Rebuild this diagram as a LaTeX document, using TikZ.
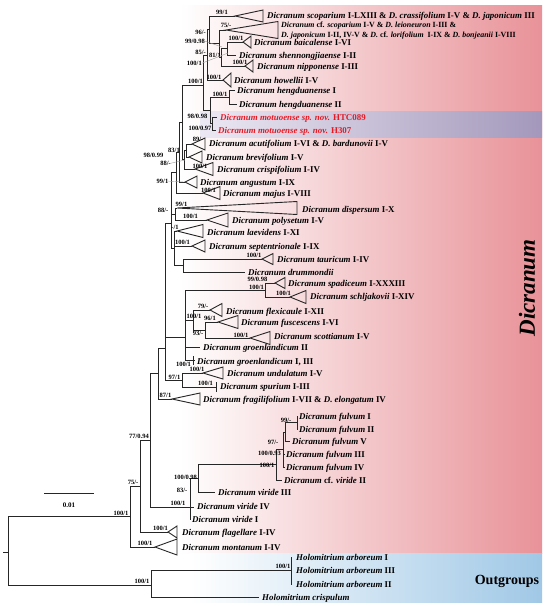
\documentclass[tikz,border=0pt]{standalone}
\usepackage{fontspec}
\setmainfont{Liberation Serif}
\definecolor{pinkR}{RGB}{232,146,152}
\definecolor{pinkM}{RGB}{246,214,217}
\definecolor{blueR}{RGB}{160,200,230}
\definecolor{purR}{RGB}{163,152,187}
\definecolor{purL}{RGB}{236,232,243}
\definecolor{redT}{RGB}{230,25,35}
\newcommand{\cladetri}[3]{\draw[br] (#1) -- ++(#2,-#3) -- ++(0,{2*#3}) -- cycle;}
\begin{document}
\begin{tikzpicture}[x=1pt,y=-1pt,
 br/.style={line width=0.9pt, draw=black!85},
 tl/.style={anchor=base west, inner sep=0pt, yshift=-3.1pt, font=\fontsize{8.9}{10}\selectfont\bfseries},
 tls/.style={tl, font=\fontsize{7.9}{9}\selectfont\bfseries},
 bs/.style={anchor=base, inner sep=0pt, yshift=-2.3pt, font=\fontsize{6.5}{7}\selectfont\bfseries},
 bse/.style={bs, anchor=base east},
 lead/.style={draw=black!40, line width=0.4pt}]
\useasboundingbox (0,0) rectangle (550,606);
% backgrounds
\shade[left color=white, middle color=pinkM, right color=pinkR] (180,5) rectangle (542,553);
\shade[left color=purL, right color=purR] (200,111) rectangle (542,137);
\shade[left color=white, right color=blueR] (190,553) rectangle (542,602);
% coordinates
\coordinate (root) at (8,552); \coordinate (rtk) at (3,552);
\coordinate (R) at (130,516.5); \coordinate (O) at (151,585);
\coordinate (Ar) at (291,570.5);
\coordinate (arI) at (292,557); \coordinate (arIII) at (292,570.5); \coordinate (arII) at (292,584);
\coordinate (crs) at (259,597);
\coordinate (T) at (140,486); \coordinate (mon) at (155,547);
\coordinate (M0) at (150,440); \coordinate (fla) at (168,532);
\coordinate (M1) at (158,373.5); \coordinate (W) at (190,507);
\coordinate (X) at (198,478.5); \coordinate (vIV) at (194,507); \coordinate (vI) at (190,520);
\coordinate (F0) at (276,464.75); \coordinate (vIII) at (215,492);
\coordinate (F1v) at (283,449.5); \coordinate (cvII) at (282,480);
\coordinate (F2v) at (285,432); \coordinate (fIII) at (285,454); \coordinate (fIV) at (285,467);
\coordinate (F3) at (297,422.5); \coordinate (fV) at (290,441);
\coordinate (fI) at (298,416); \coordinate (fII) at (298,429);
\coordinate (BIG) at (165,348); \coordinate (fra) at (172,399);
\coordinate (X1) at (171,223); \coordinate (G) at (185,337); \coordinate (U) at (182,380);
\coordinate (und) at (203,373); \coordinate (Sp) at (216,387);
\coordinate (spT) at (216,382); \coordinate (spB) at (216,392);
\coordinate (SS) at (265,290); \coordinate (F) at (193,320); \coordinate (g2) at (200,347);
\coordinate (GI) at (193,360.5); \coordinate (gIT) at (193,356); \coordinate (gIB) at (193,365);
\coordinate (gIe) at (195,360.5);
\coordinate (spa) at (275,283); \coordinate (sch) at (290,297);
\coordinate (fle) at (210,310); \coordinate (F2) at (205,330);
\coordinate (fus) at (218,322); \coordinate (sco) at (250,338);
\coordinate (Q) at (176,172.5); \coordinate (DP) at (175,214); \coordinate (L2) at (174,248);
\coordinate (dis) at (177,208); \coordinate (pol) at (207,220);
\coordinate (lae) at (177,231); \coordinate (sep) at (192,246); \coordinate (D) at (183,265.5);
\coordinate (tau) at (262,259); \coordinate (dru) at (245,272);
\coordinate (Q1) at (179,152); \coordinate (maj) at (203,193);
\coordinate (P) at (182,122.5); \coordinate (ang) at (185,182);
\coordinate (J) at (203,85); \coordinate (AB) at (184,159.5);
\coordinate (AB0) at (186,150); \coordinate (crp) at (195,169);
\coordinate (acu) at (192,144); \coordinate (bre) at (189,157);
\coordinate (H) at (207,55); \coordinate (HM) at (210,110);
\coordinate (Hd) at (229,97); \coordinate (Mo) at (212,123.5);
\coordinate (h1) at (235,90); \coordinate (h2) at (237,104);
\coordinate (m1) at (217,117); \coordinate (m2) at (216,130);
\coordinate (A1) at (209,29.75); \coordinate (how) at (223,80);
\coordinate (scp) at (235,16); \coordinate (A2) at (219,43.5);
\coordinate (cfs) at (226,30); \coordinate (A3) at (221,57);
\coordinate (B1) at (227,48.5); \coordinate (nip) at (245,66);
\coordinate (bai) at (243,42); \coordinate (she) at (236,55);
% branches
\draw[br] (rtk) -- (root);
\draw[br] (root) |- (R); \draw[br] (root) |- (O);
\draw[br] (O) |- (Ar); \draw[br] (O) |- (crs);
\draw[br] (Ar) |- (arI); \draw[br] (Ar) -- (arIII); \draw[br] (Ar) |- (arII);
\draw[br] (R) |- (T); \draw[br] (R) |- (mon);
\draw[br] (T) |- (M0); \draw[br] (T) |- (fla);
\draw[br] (M0) |- (M1); \draw[br] (M0) |- (W);
\draw[br] (W) |- (X); \draw[br] (W) -- (vIV); \draw[br] (W) -- (vI);
\draw[br] (X) |- (F0); \draw[br] (X) |- (vIII);
\draw[br] (F0) |- (F1v); \draw[br] (F0) |- (cvII);
\draw[br] (F1v) |- (F2v); \draw[br] (F1v) |- (fIII); \draw[br] (F1v) |- (fIV);
\draw[br] (F2v) |- (F3); \draw[br] (F2v) |- (fV);
\draw[br] (F3) |- (fI); \draw[br] (F3) |- (fII);
\draw[br] (M1) |- (BIG); \draw[br] (M1) |- (fra);
\draw[br] (BIG) |- (X1); \draw[br] (BIG) |- (G); \draw[br] (BIG) |- (U);
\draw[br] (U) |- (und); \draw[br] (U) |- (Sp); \draw[br] (spT) -- (spB);
\draw[br] (G) |- (SS); \draw[br] (G) |- (F); \draw[br] (G) |- (g2); \draw[br] (G) |- (GI);
\draw[br] (gIT) -- (gIB); \draw[br] (GI) -- (gIe);
\draw[br] (SS) |- (spa); \draw[br] (SS) |- (sch);
\draw[br] (F) |- (fle); \draw[br] (F) |- (F2);
\draw[br] (F2) |- (fus); \draw[br] (F2) |- (sco);
\draw[br] (X1) |- (Q); \draw[br] (X1) |- (DP); \draw[br] (X1) |- (L2);
\draw[br] (DP) |- (dis); \draw[br] (DP) |- (pol);
\draw[br] (L2) |- (lae); \draw[br] (L2) |- (sep); \draw[br] (L2) |- (D);
\draw[br] (D) |- (tau); \draw[br] (D) |- (dru);
\draw[br] (Q) |- (Q1); \draw[br] (Q) |- (maj);
\draw[br] (Q1) |- (P); \draw[br] (Q1) |- (ang);
\draw[br] (P) |- (J); \draw[br] (P) |- (AB);
\draw[br] (AB) |- (AB0); \draw[br] (AB) |- (crp);
\draw[br] (AB0) |- (acu); \draw[br] (AB0) |- (bre);
\draw[br] (J) |- (H); \draw[br] (J) |- (HM);
\draw[br] (HM) |- (Hd); \draw[br] (HM) |- (Mo);
\draw[br] (Hd) |- (h1); \draw[br] (Hd) |- (h2);
\draw[br] (Mo) |- (m1); \draw[br] (Mo) |- (m2);
\draw[br] (H) |- (A1); \draw[br] (H) |- (how);
\draw[br] (A1) |- (scp); \draw[br] (A1) |- (A2);
\draw[br] (A2) |- (cfs); \draw[br] (A2) |- (A3);
\draw[br] (A3) |- (B1); \draw[br] (A3) |- (nip);
\draw[br] (B1) |- (bai); \draw[br] (B1) |- (she);
% collapsed clades
\cladetri{scp}{28}{6}
\cladetri{cfs}{52}{8.5}
\cladetri{bai}{8}{6}
\cladetri{nip}{8}{6}
\cladetri{how}{8}{7}
\cladetri{acu}{13}{6}
\cladetri{bre}{13}{6}
\cladetri{crp}{18}{6.5}
\cladetri{ang}{12}{6}
\cladetri{maj}{17}{6.5}
\cladetri{dis}{120}{6.5}
\cladetri{pol}{21}{7}
\cladetri{lae}{26}{6.5}
\cladetri{sep}{13}{6}
\cladetri{tau}{11}{5.5}
\cladetri{spa}{10}{5.5}
\cladetri{sch}{16}{6.5}
\cladetri{fle}{12}{6.5}
\cladetri{fus}{20}{6.5}
\cladetri{sco}{20}{6.5}
\cladetri{und}{20}{6}
\cladetri{fra}{28}{6}
\cladetri{fla}{9}{6}
\cladetri{mon}{22}{8}
% taxon labels
\node[tl] (t1) at (267,15) {\textit{Dicranum scoparium} I-LXIII \& \textit{D. crassifolium} I-V \& \textit{D. japonicum} III};
\node[tls] (t2a) at (281,24.5) {\textit{Dicranum} cf. \textit{scoparium} I-V \& \textit{D. leioneuron} I-III \&};
\node[tls] (t2b) at (281,34) {\textit{D. japonicum} I-II, IV-V \& \textit{D.} cf. \textit{lorifolium} \ I-IX \& \textit{D. bonjeanii} I-VIII};
\node[tl] (t3) at (254,42) {\textit{Dicranum baicalense} I-VI};
\node[tl] (t4) at (239,55) {\textit{Dicranum shennongjiaense} I-II};
\node[tl] (t5) at (257,66) {\textit{Dicranum nipponense} I-III};
\node[tl] (t6) at (234,80) {\textit{Dicranum howellii} I-V};
\node[tl] (t7) at (237,90) {\textit{Dicranum hengduanense} I};
\node[tl] (t8) at (239,104) {\textit{Dicranum hengduanense} II};
\node[tl, text=redT] (t9) at (220,117) {\textit{Dicranum motuoense sp. nov.} HTC089};
\node[tl, text=redT] (t10) at (218,130) {\textit{Dicranum motuoense sp. nov.} H307};
\node[tl] (t11) at (209,143) {\textit{Dicranum acutifolium} I-VI \& \textit{D. bardunovii} I-V};
\node[tl] (t12) at (206,157) {\textit{Dicranum brevifolium} I-V};
\node[tl] (t13) at (217,169) {\textit{Dicranum crispifolium} I-IV};
\node[tl] (t14) at (200,182) {\textit{Dicranum angustum} I-IX};
\node[tl] (t15) at (223,193) {\textit{Dicranum majus} I-VIII};
\node[tl] (t16) at (302,209) {\textit{Dicranum dispersum} I-X};
\node[tl] (t17) at (232,220) {\textit{Dicranum polysetum} I-V};
\node[tl] (t18) at (207,232) {\textit{Dicranum laevidens} I-XI};
\node[tl] (t19) at (209,246) {\textit{Dicranum septentrionale} I-IX};
\node[tl] (t20) at (277,259) {\textit{Dicranum tauricum} I-IV};
\node[tl] (t21) at (248,272.5) {\textit{Dicranum drummondii}};
\node[tl] (t22) at (288,283) {\textit{Dicranum spadiceum} I-XXXIII};
\node[tl] (t23) at (310,296) {\textit{Dicranum schljakovii} I-XIV};
\node[tl] (t24) at (226,311) {\textit{Dicranum flexicaule} I-XII};
\node[tl] (t25) at (241,322) {\textit{Dicranum fuscescens} I-VI};
\node[tl] (t26) at (274,336) {\textit{Dicranum scottianum} I-V};
\node[tl] (t27) at (203,347) {\textit{Dicranum groenlandicum} II};
\node[tl] (t28) at (197,361) {\textit{Dicranum groenlandicum} I, III};
\node[tl] (t29) at (227,373) {\textit{Dicranum undulatum} I-V};
\node[tl] (t30) at (220,386) {\textit{Dicranum spurium} I-III};
\node[tl] (t31) at (203,399) {\textit{Dicranum fragilifolium} I-VII \& \textit{D. elongatum} IV};
\node[tl] (t32) at (299,416) {\textit{Dicranum fulvum} I};
\node[tl] (t33) at (299,429) {\textit{Dicranum fulvum} II};
\node[tl] (t34) at (292,441) {\textit{Dicranum fulvum} V};
\node[tl] (t35) at (286,454) {\textit{Dicranum fulvum} III};
\node[tl] (t36) at (286,467) {\textit{Dicranum fulvum} IV};
\node[tl] (t37) at (284,480) {\textit{Dicranum} cf. \textit{viride} II};
\node[tl] (t38) at (218,492) {\textit{Dicranum viride} III};
\node[tl] (t39) at (197,506) {\textit{Dicranum viride} IV};
\node[tl] (t40) at (192,519) {\textit{Dicranum viride} I};
\node[tl] (t41) at (182,532) {\textit{Dicranum flagellare} I-IV};
\node[tl] (t42) at (182,547) {\textit{Dicranum montanum} I-IV};
\node[tl] (t43) at (296,557) {\textit{Holomitrium arboreum} I};
\node[tl] (t44) at (296,570.5) {\textit{Holomitrium arboreum} III};
\node[tl] (t45) at (296,584) {\textit{Holomitrium arboreum} II};
\node[tl] (t46) at (262,597) {\textit{Holomitrium crispulum}};
% support values
\node[bs] (s1) at (222,12) {99/1};
\node[bse] (s2) at (206,32) {96/-};
\node[bs] (s3) at (226,25) {75/-};
\node[bse] (s4) at (205,41) {99/0.98};
\node[bs] (s5) at (236,38) {100/1};
\node[bse] (s6) at (206,52) {85/-};
\node[bs] (s7) at (215,55) {81/1};
\node[bse] (s8) at (202,63) {100/1};
\node[bs] (s9) at (240,62) {100/1};
\node[bs] (s10) at (214,77) {100/1};
\node[bs] (s11) at (195.5,81) {100/1};
\node[bs] (s12) at (220,94) {100/1};
\node[bs] (s13) at (197.5,116) {98/0.98};
\node[bs] (s14) at (200,128) {100/0.97};
\node[bs] (s15) at (198,139) {89/-};
\node[bs] (s16) at (174,150) {83/1};
\node[bs] (s17) at (153.5,155) {98/0.99};
\node[bs] (s18) at (165.5,163) {88/-};
\node[bs] (s19) at (200,166) {100/1};
\node[bs] (s20) at (162.5,181) {99/1};
\node[bs] (s21) at (208.5,190) {100/1};
\node[bs] (s22) at (181.5,204) {99/1};
\node[bs] (s23) at (163,210) {88/-};
\node[bs] (s24) at (190.5,216) {100/1};
\node[bs] (s25) at (175,227) {-/1};
\node[bs] (s26) at (182.5,242) {100/1};
\node[bs] (s27) at (254,255.5) {100/1};
\node[bs] (s28) at (257.5,279) {99/0.98};
\node[bs] (s29) at (256.5,287) {100/1};
\node[bs] (s30) at (283.5,293) {100/1};
\node[bs] (s31) at (203,306) {79/-};
\node[bs] (s32) at (194,316) {100/1};
\node[bs] (s33) at (210,318) {96/1};
\node[bs] (s34) at (198,333) {93/-};
\node[bs] (s35) at (241,335) {100/1};
\node[bs] (s36) at (183.5,364) {100/1};
\node[bs] (s37) at (197,369) {100/1};
\node[bs] (s38) at (174.5,377) {97/1};
\node[bs] (s39) at (205.5,383) {100/1};
\node[bs] (s40) at (165.5,395) {87/1};
\node[bs] (s41) at (286,420) {99/-};
\node[bs] (s42) at (273,442) {97/-};
\node[bs] (s43) at (269.5,453) {100/0.93};
\node[bs] (s44) at (267,465) {100/1};
\node[bs] (s45) at (185.5,477) {100/0.98};
\node[bs] (s46) at (182,490) {83/-};
\node[bs] (s47) at (178,503) {100/1};
\node[bs] (s48) at (133,482) {75/-};
\node[bs] (s49) at (139,436) {77/0.94};
\node[bs] (s50) at (160.5,528) {100/1};
\node[bs] (s51) at (145,543) {100/1};
\node[bs] (s52) at (121,513) {100/1};
\node[bs] (s53) at (142,581) {100/1};
\node[bs] (s54) at (283,566) {100/1};
% leader lines
\coordinate (l4) at (222,47); \coordinate (l8) at (228,53);
\coordinate (l18) at (185,160); \coordinate (l20) at (184,182);
\draw[lead] (s4.east) -- (l4);
\draw[lead] (s8.east) -- (l8);
\draw[lead] (s18.east) -- (l18);
\draw[lead] (s20.east) -- (l20);
% scale bar
\coordinate (sb1) at (44,493); \coordinate (sb2) at (94,493);
\draw[line width=0.9pt, draw=black!85] (sb1) -- (sb2);
\node[font=\fontsize{7}{8}\selectfont\bfseries, inner sep=0pt] (sbl) at (69,505) {0.01};
% group labels
\node[rotate=90, font=\fontsize{23}{26}\selectfont\bfseries\itshape, inner sep=0pt] (gD) at (527,288) {Dicranum};
\node[font=\fontsize{14}{16}\selectfont\bfseries, inner sep=0pt] (gO) at (507,581) {Outgroups};
\end{tikzpicture}
\end{document}
